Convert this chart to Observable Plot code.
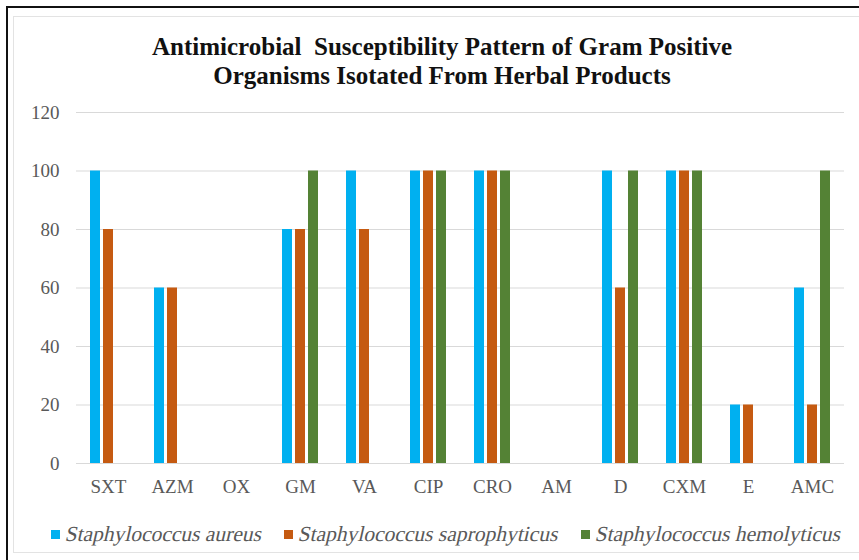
<!DOCTYPE html>
<html>
<head>
<meta charset="utf-8">
<script src="https://cdn.jsdelivr.net/npm/d3@7"></script>
<script src="https://cdn.jsdelivr.net/npm/@observablehq/plot@0.6"></script>
<style>
  html, body { margin: 0; padding: 0; background: #fff; }
  #wrap { position: relative; width: 859px; height: 560px; overflow: hidden; background: #fff; font-family: "Liberation Serif", serif; }
  #outer { position: absolute; left: 6px; top: 6px; width: 900px; height: 600px; border-left: 2px solid #111; border-top: 2px solid #111; box-sizing: border-box; }
  #inner { position: absolute; left: 13px; top: 16px; width: 900px; height: 537px; border: 1.5px solid #e3e3e3; box-sizing: border-box; }
  #title { position: absolute; left: 0; width: 884px; top: 32px; text-align: center; font-family: "Liberation Serif", serif; font-weight: bold; font-size: 25px; line-height: 29px; color: #111; }
  #chart { position: absolute; left: 0; top: 0; }
  #legend { position: absolute; left: 51px; top: 522px; display: flex; align-items: center; font-family: "Liberation Serif", serif; font-size: 21.5px; color: #595959; white-space: nowrap; }
  .item { display: flex; align-items: center; margin-right: 22px; }
  .sw { width: 9px; height: 9px; margin-right: 6px; }
  .lt { display: inline-block; transform: skewX(-13deg); }
</style>
</head>
<body>
<div id="wrap">
  <div id="outer"></div>
  <div id="inner"></div>
  <div id="chart"></div>
  <div id="title">Antimicrobial&nbsp; Susceptibility Pattern of Gram Positive<br>Organisms Isotated From Herbal Products</div>
  <div id="legend"></div>
</div>
<script>
const categories = ["SXT", "AZM", "OX", "GM", "VA", "CIP", "CRO", "AM", "D", "CXM", "E", "AMC"];
const seriesNames = ["Staphylococcus aureus", "Staphylococcus saprophyticus", "Staphylococcus hemolyticus"];
const aureus        = [100, 60, 0, 80, 100, 100, 100, 0, 100, 100, 20, 60];
const saprophyticus = [80, 60, 0, 80, 80, 100, 100, 0, 60, 100, 20, 20];
const hemolyticus   = [0, 0, 0, 100, 0, 100, 100, 0, 100, 100, 0, 100];
const colors = ["#00B0F0", "#C55A11", "#548235"];
const yTicks = [0, 20, 40, 60, 80, 100, 120];

const seriesValues = [aureus, saprophyticus, hemolyticus];
const data = [];
categories.forEach((c, i) => {
  seriesNames.forEach((s, j) => data.push({drug: c, species: s, value: seriesValues[j][i]}));
});

const chart = Plot.plot({
  width: 859,
  height: 560,
  marginTop: 112,
  marginBottom: 97,
  marginLeft: 73,
  marginRight: 12,
  style: {fontFamily: '"Liberation Serif", serif', fontSize: "19px", color: "#595959", background: "transparent"},
  fx: {domain: categories, padding: 0, label: null, axis: "bottom", tickSize: 0, tickPadding: 16},
  x: {domain: seriesNames, paddingInner: 0.25, paddingOuter: 0.917, axis: null},
  y: {domain: [0, 120], label: null, axis: null},
  color: {domain: seriesNames, range: colors},
  marks: [
    Plot.ruleY(yTicks, {stroke: "#d9d9d9", strokeWidth: 1}),
    Plot.barY(data, {fx: "drug", x: "species", y: "value", fill: "species"}),
    Plot.axisY(yTicks, {tickSize: 0, tickPadding: 17, label: null, fill: "#595959"})
  ]
});
document.getElementById("chart").appendChild(chart);

const legend = document.getElementById("legend");
seriesNames.forEach((s, j) => {
  const item = document.createElement("div");
  item.className = "item";
  const sw = document.createElement("div");
  sw.className = "sw";
  sw.style.background = colors[j];
  const t = document.createElement("span");
  t.className = "lt";
  t.textContent = s;
  item.appendChild(sw);
  item.appendChild(t);
  legend.appendChild(item);
});
</script>
</body>
</html>
